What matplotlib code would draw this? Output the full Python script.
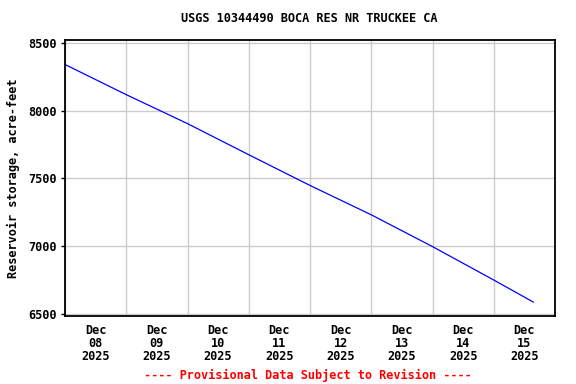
import numpy as np
import pandas as pd
import matplotlib
matplotlib.use('Agg')
import matplotlib.pyplot as plt
import matplotlib.dates as mdates

# 그래프 제목 / 라벨
TITLE_NAME = 'USGS 10344490 BOCA RES NR TRUCKEE CA'
Y_LABEL = 'Reservoir storage, acre-feet'
FOOTER = '---- Provisional Data Subject to Revision ----'

# 그림에서 읽은 값 (저수량, acre-feet)
times = ['2025-12-08 00:00', '2025-12-09 00:00', '2025-12-10 00:00',
         '2025-12-11 00:00', '2025-12-12 00:00', '2025-12-13 00:00',
         '2025-12-14 00:00', '2025-12-15 00:00', '2025-12-15 15:30']
storage = [8341, 8118, 7904, 7674, 7447, 7230, 6995, 6748, 6585]

y_ticks = [6500, 7000, 7500, 8000, 8500]
day_labels = ['Dec\n08\n2025', 'Dec\n09\n2025', 'Dec\n10\n2025', 'Dec\n11\n2025',
              'Dec\n12\n2025', 'Dec\n13\n2025', 'Dec\n14\n2025', 'Dec\n15\n2025']

FONT = 'DejaVu Sans Mono'
FS = 8.6

t = pd.to_datetime(times)

fig = plt.figure(figsize=(5.76, 3.84), dpi=100)
ax = fig.add_axes([65 / 576, 1 - 316 / 384, 490 / 576, 276 / 384])

ax.plot(t, storage, color='#0000ff', lw=0.9)

# x축: 자정에 격자선, 정오에 날짜 라벨
start = pd.Timestamp('2025-12-08')
end = pd.Timestamp('2025-12-16')
ax.set_xlim(start, end)
midnights = pd.date_range(start, end, freq='D')
noons = midnights[:-1] + pd.Timedelta(hours=12)
ax.set_xticks(midnights)
ax.set_xticklabels([''] * len(midnights))
ax.set_xticks(noons, minor=True)
ax.set_xticklabels(day_labels, minor=True, fontfamily=FONT, fontweight='bold',
                   fontsize=FS, linespacing=1.0)
ax.tick_params(axis='x', which='major', length=0)
ax.tick_params(axis='x', which='minor', length=0, pad=6)

ax.set_ylim(6482, 8522)
ax.set_yticks(y_ticks)
ax.set_yticklabels([str(v) for v in y_ticks], fontfamily=FONT,
                   fontweight='bold', fontsize=FS)
ax.tick_params(axis='y', length=3, width=1, pad=3)

ax.grid(True, which='major', color='#cccccc', lw=1)
ax.set_axisbelow(True)
for s in ax.spines.values():
    s.set_linewidth(1.3)

ax.set_ylabel(Y_LABEL, fontfamily=FONT, fontweight='bold', fontsize=FS, labelpad=6)
fig.text(309 / 576, 1 - 19 / 384, TITLE_NAME, ha='center', va='center',
         fontfamily=FONT, fontweight='bold', fontsize=FS)
fig.text(308 / 576, 1 - 375 / 384, FOOTER, ha='center', va='center',
         fontfamily=FONT, fontweight='bold', fontsize=FS, color='#ff0000')

fig.savefig('out.png', dpi=100)
